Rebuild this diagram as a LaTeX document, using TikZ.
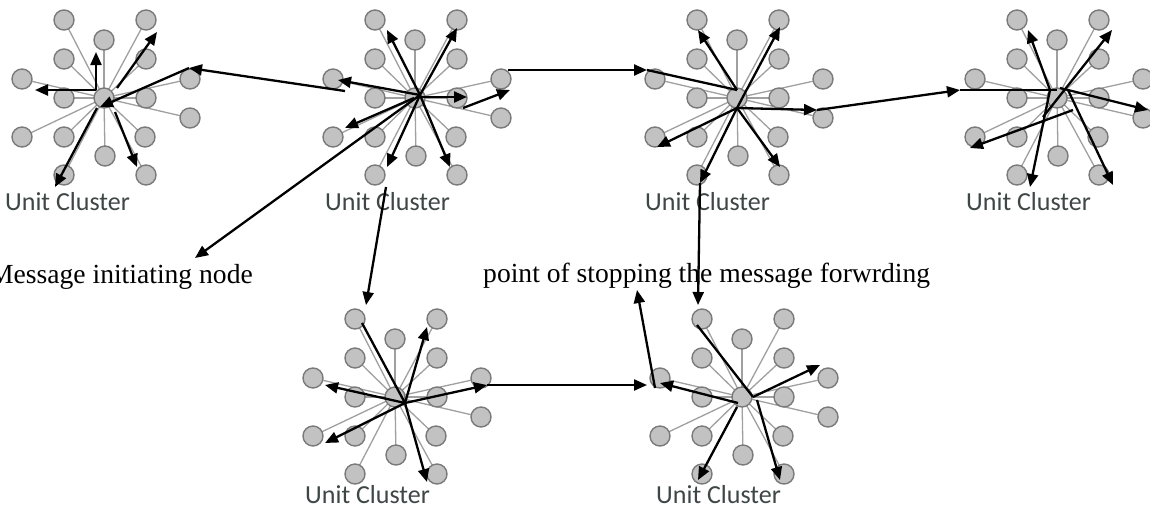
\documentclass[tikz,border=0pt]{standalone}
\usepackage{fontspec}
\setmainfont{Liberation Serif}
\newfontfamily\labelfont{Carlito}
\usetikzlibrary{arrows.meta,calc}

\definecolor{dotfill}{HTML}{C2C2C2}
\definecolor{dotedge}{HTML}{7A7A7A}
\definecolor{spokegrey}{HTML}{A0A0A0}
\definecolor{labelgrey}{HTML}{3E4646}

\tikzset{
  dot/.style={circle, fill=dotfill, draw=dotedge, line width=1.4pt,
              minimum size=20pt, inner sep=0pt},
  spoke/.style={draw=spokegrey, line width=1.3pt, shorten <=7pt, shorten >=10pt},
  msg/.style={draw=black, line width=2.3pt,
              -{Triangle[length=13pt,width=11pt]}},
  msgline/.style={draw=black, line width=2.3pt},
  clusterlabel/.style={font=\labelfont\fontsize{26pt}{28pt}\selectfont,
                       text=labelgrey, anchor=base west, inner sep=0pt},
  caption/.style={font=\fontsize{27.6pt}{30pt}\selectfont, anchor=base,
                  inner sep=0pt}
}

% one unit cluster: a centre sensor with sixteen neighbours and grey links
\newcommand{\unitcluster}[3]{%
  \coordinate (#1) at (#2,#3);
  \foreach \px/\py in {-40/-78,42/-78,0/-58,-40/-39,42/-39,-82/-19,86/-19,
                       -40/0,42/0,86/20,-82/39,-40/39,41/39,1/58,-40/77,42/77}{
    \draw[spoke] (#1) -- ($(#1)+(\px,\py)$);
  }
  \foreach \px/\py [count=\k] in {-40/-78,42/-78,0/-58,-40/-39,42/-39,-82/-19,86/-19,
                       -40/0,42/0,86/20,-82/39,-40/39,41/39,1/58,-40/77,42/77}{
    \node[dot] (#1-\k) at ($(#1)+(\px,\py)$) {};
  }
  \node[dot] (#1-c) at (#1) {};
}

\begin{document}
\begin{tikzpicture}[x=1pt,y=-1pt]
\useasboundingbox (0,0) rectangle (1150,517);
\fill[white] (0,0) rectangle (1150,517);

% clusters
\unitcluster{c1}{104}{98}
\unitcluster{c2}{415}{98}
\unitcluster{c3}{737}{98}
\unitcluster{c4}{1057}{98}
\unitcluster{c5}{395}{397}
\unitcluster{c6}{742}{397}

% cluster captions
\node[clusterlabel] (l1) at (5,210)   {Unit Cluster};
\node[clusterlabel] (l2) at (325,210) {Unit Cluster};
\node[clusterlabel] (l3) at (645,210) {Unit Cluster};
\node[clusterlabel] (l4) at (966,210) {Unit Cluster};
\node[clusterlabel] (l5) at (305,503) {Unit Cluster};
\node[clusterlabel] (l6) at (656,503) {Unit Cluster};

% annotations
\node[caption, anchor=base east] (start) at (253,283) {Message initiating node};
\node[caption, anchor=base west] (stop) at (483,282) {point of stopping the message forwrding};

% message path points
\foreach \n/\x/\y in {
  h1a/96/90, e1up/96/52, e1l/35/90, h1b/117/88, e1ur/157/32,
  s1/345/91, m1/189/68, h1c/100/107, h1d/97/108, e1dl/55/187,
  h1e/115/112, e1dr/137/167,
  h2/420/95, e2ul/387/30, e2ur/457/28, e2l/338/80, h2r/420/97, e2r/467/97,
  s2/463/108, e2rr/510/90, s2b/508/70, m2/647/70,
  e2msg/195/258, h2b/414/98, e2dl2/345/128, e2dl/387/167, e2dr/450/167,
  s2c/386/187, e2down/366/305,
  h3/737/90, e3ul/698/30, h3b/737/108, e3ur/780/27, m3/817/110, m3b/960/90,
  e3dl/657/147, e3dr/780/167, m3c/700/183, e3down/698/305,
  h4/1057/90, h4a/1050/90, e4ul/1028/30, s4/1043/117, e4ur/1112/30,
  h4b/1060/88, e4r/1148/110, h4c/1073/110, e4dl/970/148, e4d/1030/187,
  h4d/1068/90, e4dr/1113/185,
  s5/362/323, h5/405/403, e5ur/427/327, e5l/325/385, e5r/487/385, m5/647/385,
  e5dl/325/443, e5d/427/482,
  s6/697/325, h6/753/397, e6ur/820/365, h6b/738/403, e6l/660/383,
  s6b/655/388, e6up/637/290, h6c/737/407, e6dl/698/480, h6d/757/400,
  e6dr/780/480}{
  \coordinate (\n) at (\x,\y);
}

% cluster 1
\draw[msg] (h1a) -- (e1up);
\draw[msg] (h1a) -- (e1l);
\draw[msg] (h1b) -- (e1ur);
\draw[msg] (s1) -- (m1);
\draw[msg] (m1) -- (h1c);
\draw[msg] (h1d) -- (e1dl);
\draw[msg] (h1e) -- (e1dr);

% cluster 2
\draw[msg] (h2) -- (e2ul);
\draw[msg] (h2) -- (e2ur);
\draw[msg] (h2) -- (e2l);
\draw[msg] (h2r) -- (e2r);
\draw[msg] (s2) -- (e2rr);
\draw[msg] (s2b) -- (m2);
\draw[msgline] (m2) -- (h3);
\draw[msg] (h2) -- (e2msg);
\draw[msg] (h2b) -- (e2dl2);
\draw[msg] (h2) -- (e2dl);
\draw[msg] (h2) -- (e2dr);
\draw[msg] (s2c) -- (e2down);

% cluster 3
\draw[msg] (h3) -- (e3ul);
\draw[msg] (h3b) -- (e3ur);
\draw[msg] (h3b) -- (m3);
\draw[msg] (m3) -- (m3b);
\draw[msgline] (m3b) -- (h4);
\draw[msg] (h3b) -- (e3dl);
\draw[msg] (h3b) -- (e3dr);
\draw[msg] (h3b) -- (m3c);
\draw[msg] (m3c) -- (e3down);

% cluster 4
\draw[msg] (h4a) -- (e4ul);
\draw[msg] (s4) -- (e4ur);
\draw[msg] (h4b) -- (e4r);
\draw[msg] (h4c) -- (e4dl);
\draw[msg] (h4a) -- (e4d);
\draw[msg] (h4d) -- (e4dr);

% cluster 5
\draw[msgline] (s5) -- (h5);
\draw[msg] (h5) -- (e5ur);
\draw[msg] (h5) -- (e5l);
\draw[msg] (h5) -- (e5r);
\draw[msg] (e5r) -- (m5);
\draw[msg] (h5) -- (e5dl);
\draw[msg] (h5) -- (e5d);

% cluster 6
\draw[msgline] (s6) -- (h6);
\draw[msg] (h6) -- (e6ur);
\draw[msg] (h6b) -- (e6l);
\draw[msg] (s6b) -- (e6up);
\draw[msg] (h6c) -- (e6dl);
\draw[msg] (h6d) -- (e6dr);
\end{tikzpicture}
\end{document}
